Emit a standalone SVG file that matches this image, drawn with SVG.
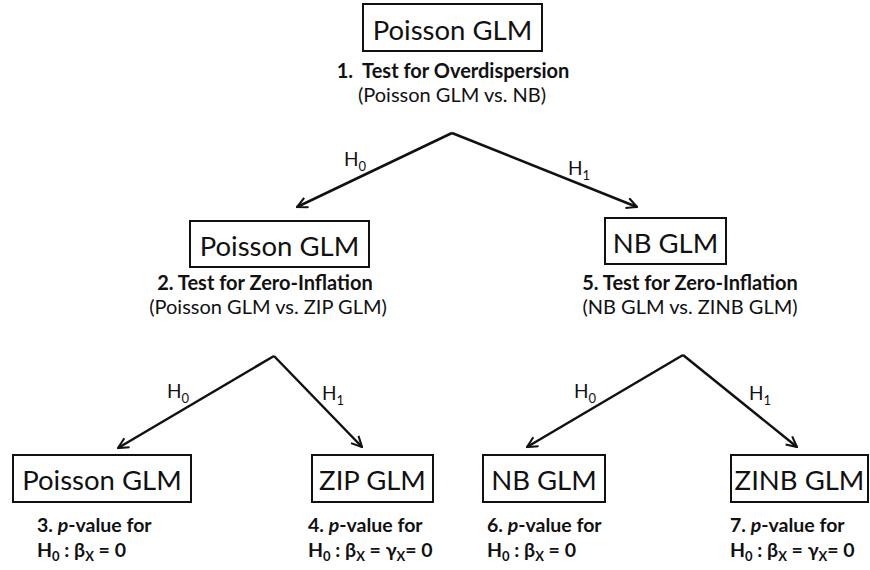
<svg xmlns="http://www.w3.org/2000/svg" width="870" height="570" viewBox="0 0 870 570">
<style>
text{font-family:Lato,"Open Sans","Liberation Sans",sans-serif;fill:#111}
.box{fill:#fff;stroke:#111;stroke-width:2}
.name{font-size:27.5px}
.b{font-size:20px;font-weight:bold}
.r{font-size:20px}
.bb{font-size:19.5px;font-weight:bold}
.h{font-size:19px}
.sub{font-size:13px}
.mid{text-anchor:middle}
.edge{stroke:#111;stroke-width:2.5;fill:none;marker-end:url(#arr)}
</style>
<defs>
<marker id="arr" viewBox="0 0 12 12" refX="11" refY="6" markerWidth="5" markerHeight="5" orient="auto" markerUnits="strokeWidth">
<path d="M1,1 L11,6 L1,11" fill="none" stroke="#111" stroke-width="2"/>
</marker>
</defs>
<rect width="870" height="570" fill="#fff"/>
<g id="connectors">
<path class="edge" d="M452,133 L297,207"/>
<path class="edge" d="M452,133 L637,207"/>
<path class="edge" d="M274,356 L118,448"/>
<path class="edge" d="M274,356 L362,447"/>
<path class="edge" d="M683,355 L527,447"/>
<path class="edge" d="M683,355 L797,447"/>
<text class="h" x="344" y="166">H<tspan class="sub" dy="5">0</tspan></text>
<text class="h" x="568" y="175">H<tspan class="sub" dy="5">1</tspan></text>
<text class="h" x="167" y="398">H<tspan class="sub" dy="5">0</tspan></text>
<text class="h" x="322" y="400">H<tspan class="sub" dy="5">1</tspan></text>
<text class="h" x="574" y="398">H<tspan class="sub" dy="5">0</tspan></text>
<text class="h" x="749" y="400">H<tspan class="sub" dy="5">1</tspan></text>
</g>
<g id="n1">
<rect class="box" x="363" y="4" width="179" height="47"/>
<text class="name mid" x="452.5" y="40">Poisson GLM</text>
<text class="b mid" x="453" y="78" style="white-space:pre">1.  Test for Overdispersion</text>
<text class="r mid" x="452" y="102">(Poisson GLM vs. NB)</text>
</g>
<g id="n2">
<rect class="box" x="190" y="221" width="179" height="46"/>
<text class="name mid" x="279.5" y="256">Poisson GLM</text>
<text class="b mid" x="265" y="290">2. Test for Zero-Inflation</text>
<text class="r mid" x="268" y="314">(Poisson GLM vs. ZIP GLM)</text>
</g>
<g id="n5">
<rect class="box" x="605" y="218" width="121" height="46"/>
<text class="name mid" x="665.5" y="253">NB GLM</text>
<text class="b mid" x="690" y="290">5. Test for Zero-Inflation</text>
<text class="r mid" x="690" y="314">(NB GLM vs. ZINB GLM)</text>
</g>
<g id="n3">
<rect class="box" x="13" y="455" width="178" height="47"/>
<text class="name mid" x="102" y="490">Poisson GLM</text>
<text class="bb" x="37" y="532">3. <tspan font-style="italic">p</tspan>-value for</text>
<text class="bb" x="37" y="557">H<tspan class="sub" dy="4">0</tspan><tspan dy="-4"> : β</tspan><tspan class="sub" dy="4">X</tspan><tspan dy="-4"> = 0</tspan></text>
</g>
<g id="n4">
<rect class="box" x="312" y="455" width="121" height="47"/>
<text class="name mid" x="372.5" y="490">ZIP GLM</text>
<text class="bb" x="308" y="532">4. <tspan font-style="italic">p</tspan>-value for</text>
<text class="bb" x="308" y="557">H<tspan class="sub" dy="4">0</tspan><tspan dy="-4"> : β</tspan><tspan class="sub" dy="4">X</tspan><tspan dy="-4"> = γ</tspan><tspan class="sub" dy="4">X</tspan><tspan dy="-4">= 0</tspan></text>
</g>
<g id="n6">
<rect class="box" x="483" y="455" width="122" height="47"/>
<text class="name mid" x="544" y="490">NB GLM</text>
<text class="bb" x="487" y="532">6. <tspan font-style="italic">p</tspan>-value for</text>
<text class="bb" x="487" y="557">H<tspan class="sub" dy="4">0</tspan><tspan dy="-4"> : β</tspan><tspan class="sub" dy="4">X</tspan><tspan dy="-4"> = 0</tspan></text>
</g>
<g id="n7">
<rect class="box" x="731" y="455" width="137" height="47"/>
<text class="name mid" x="799.5" y="490">ZINB GLM</text>
<text class="bb" x="730" y="532">7. <tspan font-style="italic">p</tspan>-value for</text>
<text class="bb" x="730" y="557">H<tspan class="sub" dy="4">0</tspan><tspan dy="-4"> : β</tspan><tspan class="sub" dy="4">X</tspan><tspan dy="-4"> = γ</tspan><tspan class="sub" dy="4">X</tspan><tspan dy="-4">= 0</tspan></text>
</g>
</svg>
